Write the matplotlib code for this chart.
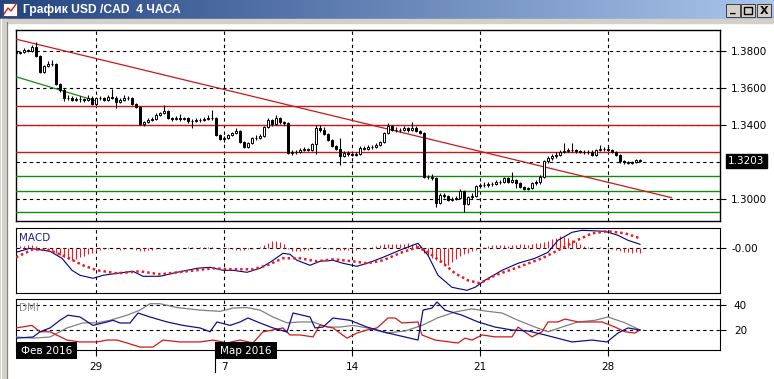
import numpy as np
import matplotlib
matplotlib.use("Agg")
import matplotlib.pyplot as plt
from matplotlib.patches import Rectangle

# ---------------- data ----------------
closes = [1.3787, 1.3792, 1.3803, 1.3797, 1.3819, 1.3770, 1.3684, 1.3716, 1.3727, 1.3727,
          1.3619, 1.3587, 1.3544, 1.3544, 1.3533, 1.3538, 1.3538, 1.3533, 1.3544, 1.3511,
          1.3544, 1.3544, 1.3533, 1.3549, 1.3544, 1.3522, 1.3533, 1.3544, 1.3544, 1.3511,
          1.3495, 1.3403, 1.3414, 1.3425, 1.3430, 1.3452, 1.3463, 1.3473, 1.3435, 1.3430,
          1.3435, 1.3430, 1.3435, 1.3419, 1.3419, 1.3425, 1.3425, 1.3430, 1.3435, 1.3435,
          1.3344, 1.3322, 1.3328, 1.3344, 1.3355, 1.3365, 1.3306, 1.3279, 1.3301, 1.3328,
          1.3328, 1.3338, 1.3387, 1.3425, 1.3403, 1.3435, 1.3414, 1.3408, 1.3247, 1.3252,
          1.3252, 1.3263, 1.3268, 1.3263, 1.3295, 1.3381, 1.3371, 1.3349, 1.3317, 1.3284,
          1.3268, 1.3230, 1.3247, 1.3241, 1.3236, 1.3241, 1.3274, 1.3268, 1.3279, 1.3279,
          1.3290, 1.3306, 1.3355, 1.3392, 1.3371, 1.3371, 1.3371, 1.3381, 1.3371, 1.3381,
          1.3365, 1.3355, 1.3117, 1.3117, 1.3111, 1.2977, 1.3020, 1.3014, 1.2993, 1.2998,
          1.3004, 1.3041, 1.2971, 1.3009, 1.3014, 1.3068, 1.3074, 1.3074, 1.3079, 1.3079,
          1.3090, 1.3090, 1.3111, 1.3090, 1.3101, 1.3085, 1.3063, 1.3052, 1.3057, 1.3085,
          1.3090, 1.3117, 1.3203, 1.3219, 1.3230, 1.3236, 1.3252, 1.3257, 1.3263, 1.3263,
          1.3257, 1.3252, 1.3252, 1.3252, 1.3236, 1.3263, 1.3268, 1.3268, 1.3263, 1.3252,
          1.3236, 1.3203, 1.3198, 1.3192, 1.3198, 1.3209, 1.3203]

opens = [1.3795, 1.3787, 1.3792, 1.3803, 1.3797, 1.3819, 1.3770, 1.3684, 1.3716, 1.3727,
         1.3727, 1.3619, 1.3587, 1.3544, 1.3544, 1.3533, 1.3538, 1.3538, 1.3533, 1.3544,
         1.3511, 1.3544, 1.3544, 1.3533, 1.3549, 1.3544, 1.3522, 1.3533, 1.3544, 1.3544,
         1.3511, 1.3495, 1.3403, 1.3414, 1.3425, 1.3430, 1.3452, 1.3463, 1.3473, 1.3435,
         1.3430, 1.3435, 1.3430, 1.3435, 1.3419, 1.3419, 1.3425, 1.3425, 1.3430, 1.3435,
         1.3435, 1.3344, 1.3322, 1.3328, 1.3344, 1.3355, 1.3365, 1.3306, 1.3279, 1.3301,
         1.3328, 1.3328, 1.3338, 1.3387, 1.3425, 1.3403, 1.3435, 1.3414, 1.3408, 1.3247,
         1.3252, 1.3252, 1.3263, 1.3268, 1.3263, 1.3295, 1.3381, 1.3371, 1.3349, 1.3317,
         1.3284, 1.3268, 1.3230, 1.3247, 1.3241, 1.3236, 1.3241, 1.3274, 1.3268, 1.3279,
         1.3279, 1.3290, 1.3306, 1.3355, 1.3392, 1.3371, 1.3371, 1.3371, 1.3381, 1.3371,
         1.3381, 1.3365, 1.3355, 1.3117, 1.3117, 1.3111, 1.2977, 1.3020, 1.3014, 1.2993,
         1.2998, 1.3004, 1.3041, 1.2971, 1.3009, 1.3014, 1.3068, 1.3074, 1.3074, 1.3079,
         1.3079, 1.3090, 1.3090, 1.3111, 1.3090, 1.3101, 1.3085, 1.3063, 1.3052, 1.3057,
         1.3085, 1.3090, 1.3117, 1.3203, 1.3219, 1.3230, 1.3236, 1.3252, 1.3257, 1.3263,
         1.3263, 1.3257, 1.3252, 1.3252, 1.3252, 1.3236, 1.3263, 1.3268, 1.3268, 1.3263,
         1.3252, 1.3236, 1.3203, 1.3198, 1.3192, 1.3198, 1.3209]

highs = [1.3805, 1.3800, 1.3812, 1.3810, 1.3830, 1.3845, 1.3775, 1.3722, 1.3745, 1.3750,
         1.3735, 1.3625, 1.3595, 1.3558, 1.3552, 1.3548, 1.3552, 1.3545, 1.3560, 1.3552,
         1.3550, 1.3556, 1.3550, 1.3558, 1.3592, 1.3552, 1.3545, 1.3562, 1.3555, 1.3550,
         1.3518, 1.3500, 1.3420, 1.3435, 1.3440, 1.3460, 1.3470, 1.3506, 1.3480, 1.3442,
         1.3445, 1.3455, 1.3442, 1.3440, 1.3430, 1.3435, 1.3438, 1.3440, 1.3450, 1.3479,
         1.3440, 1.3350, 1.3338, 1.3350, 1.3362, 1.3381, 1.3372, 1.3312, 1.3308, 1.3335,
         1.3345, 1.3350, 1.3395, 1.3436, 1.3430, 1.3452, 1.3440, 1.3420, 1.3412, 1.3260,
         1.3262, 1.3275, 1.3280, 1.3275, 1.3302, 1.3398, 1.3398, 1.3385, 1.3355, 1.3322,
         1.3290, 1.3328, 1.3255, 1.3255, 1.3250, 1.3250, 1.3282, 1.3285, 1.3290, 1.3290,
         1.3298, 1.3312, 1.3362, 1.3408, 1.3398, 1.3385, 1.3382, 1.3390, 1.3388, 1.3414,
         1.3390, 1.3372, 1.3360, 1.3130, 1.3135, 1.3118, 1.3030, 1.3030, 1.3020, 1.3008,
         1.3012, 1.3050, 1.3048, 1.3015, 1.3030, 1.3075, 1.3085, 1.3090, 1.3092, 1.3090,
         1.3100, 1.3100, 1.3118, 1.3118, 1.3144, 1.3108, 1.3092, 1.3070, 1.3065, 1.3092,
         1.3098, 1.3125, 1.3210, 1.3228, 1.3240, 1.3250, 1.3262, 1.3301, 1.3275, 1.3301,
         1.3270, 1.3265, 1.3262, 1.3265, 1.3260, 1.3270, 1.3290, 1.3280, 1.3285, 1.3270,
         1.3258, 1.3240, 1.3208, 1.3205, 1.3205, 1.3215, 1.3215]

lows = [1.3778, 1.3780, 1.3788, 1.3790, 1.3792, 1.3765, 1.3678, 1.3678, 1.3710, 1.3715,
        1.3612, 1.3578, 1.3530, 1.3535, 1.3525, 1.3526, 1.3520, 1.3522, 1.3528, 1.3505,
        1.3505, 1.3532, 1.3526, 1.3528, 1.3536, 1.3490, 1.3515, 1.3528, 1.3535, 1.3505,
        1.3488, 1.3398, 1.3392, 1.3408, 1.3418, 1.3425, 1.3445, 1.3458, 1.3428, 1.3420,
        1.3424, 1.3420, 1.3425, 1.3410, 1.3381, 1.3412, 1.3415, 1.3420, 1.3424, 1.3425,
        1.3338, 1.3315, 1.3305, 1.3320, 1.3338, 1.3348, 1.3300, 1.3272, 1.3274, 1.3295,
        1.3318, 1.3320, 1.3332, 1.3380, 1.3395, 1.3398, 1.3405, 1.3400, 1.3240, 1.3238,
        1.3242, 1.3245, 1.3255, 1.3255, 1.3255, 1.3240, 1.3362, 1.3342, 1.3310, 1.3278,
        1.3260, 1.3182, 1.3225, 1.3232, 1.3228, 1.3228, 1.3235, 1.3260, 1.3262, 1.3270,
        1.3272, 1.3285, 1.3300, 1.3350, 1.3365, 1.3362, 1.3360, 1.3365, 1.3362, 1.3365,
        1.3358, 1.3348, 1.3110, 1.3105, 1.3100, 1.2955, 1.2970, 1.3005, 1.2985, 1.2985,
        1.2990, 1.2998, 1.2928, 1.2965, 1.3000, 1.3008, 1.3060, 1.3065, 1.3065, 1.3068,
        1.3072, 1.3080, 1.3082, 1.3082, 1.3085, 1.3060, 1.3055, 1.3045, 1.3045, 1.3050,
        1.3075, 1.3080, 1.3110, 1.3195, 1.3210, 1.3222, 1.3230, 1.3245, 1.3250, 1.3252,
        1.3248, 1.3245, 1.3242, 1.3240, 1.3230, 1.3230, 1.3258, 1.3258, 1.3255, 1.3245,
        1.3228, 1.3195, 1.3188, 1.3185, 1.3188, 1.3192, 1.3198]

last_price = "1.3203"
red_levels = [1.3500, 1.3400, 1.3250]
green_levels = [1.3121, 1.3041, 1.2926]
red_trend_idx = [-0.1, 163.9]
red_trend_val = [1.3862, 1.3005]
green_trend_idx = [-0.1, 19.7]
green_trend_val = [1.3659, 1.3530]

price_ticks = [1.3000, 1.3400, 1.3600, 1.3800]
price_ticklabels = ["1.3000", "1.3400", "1.3600", "1.3800"]
day_ticks = [20, 52, 84, 116, 148]
day_labels = ["29", "7", "14", "21", "28"]

# MACD main (traced)
macd_idx = [0, 3.5, 8.5, 11.5, 14, 16, 19.25, 21.75, 25.25, 29.25, 31.75, 36, 40.25, 45.25,
            48.5, 51.75, 54.25, 57.75, 61, 63.5, 66.75, 68.5, 70.25, 73.5, 76, 79.25, 81.75,
            85.25, 88.5, 91.75, 96.5, 100.5, 103, 105.5, 109, 112.75, 114.75, 117.25, 121.5,
            125.5, 129.75, 133, 135.5, 139, 141.5, 147.25, 150.5, 153, 156]
macd_val = [-0.0004, 0.0000, -0.0003, -0.0010, -0.0022, -0.0027, -0.0030, -0.0027, -0.0025,
            -0.0023, -0.0028, -0.0028, -0.0024, -0.0020, -0.0019, -0.0022, -0.0022, -0.0024,
            -0.0020, -0.0014, -0.0005, -0.0006, -0.0012, -0.0017, -0.0013, -0.0012, -0.0015,
            -0.0018, -0.0014, -0.0009, -0.0001, 0.0005, -0.0007, -0.0027, -0.0039, -0.0042,
            -0.0039, -0.0032, -0.0022, -0.0015, -0.0010, -0.0004, 0.0008, 0.0016, 0.0018,
            0.0017, 0.0013, 0.0008, 0.0004]
sig_idx = [0, 4.25, 8.5, 12.75, 16.75, 20.25, 25.25, 31, 36, 42.75, 49.25, 54.25, 59.25, 62.75,
           66.75, 71, 75.25, 79.25, 84.25, 87.75, 91.75, 96.5, 100.5, 103, 106.5, 109.75, 113,
           116, 119.75, 125.5, 131.5, 135.5, 139.75, 144, 148, 152.25, 156]
sig_val = [-0.0009, -0.0001, -0.0002, -0.0009, -0.0017, -0.0022, -0.0025, -0.0023, -0.0026,
           -0.0023, -0.0020, -0.0021, -0.0021, -0.0017, -0.0010, -0.0010, -0.0013, -0.0011,
           -0.0013, -0.0015, -0.0012, -0.0004, 0.0001, -0.0004, -0.0014, -0.0025, -0.0032,
           -0.0035, -0.0027, -0.0019, -0.0010, -0.0002, 0.0007, 0.0015, 0.0017, 0.0015, 0.0010]
hist_val = [1, 2, 2, 3, 3, 2, 0, -1, -2, -3,
            -5, -7, -9, -11, -12, -11, -9, -8, -6, -5,
            -3, -2, -1, -1, 0, -1, -2, -1, 0, -1,
            -2, -3, -3, -2, -2, -1, -1, 0, 0, -1,
            -1, 0, 0, 1, 1, 0, 1, 1, 1, 1,
            0, -1, -1, -1, -1, -2, -2, -2, -1, -1,
            0, 1, 3, 5, 7, 7, 6, 4, -1, -3,
            -3, -3, -2, -2, -1, 0, 1, 0, -1, -1,
            -2, -2, -2, -2, -2, -2, -1, -1, 0, 1,
            2, 3, 4, 4, 4, 4, 4, 4, 5, 4,
            4, 3, -5, -7, -10, -12, -14, -16, -17, -14,
            -11, -8, -6, -5, -3, -2, -1, 1, 2, 3,
            3, 3, 3, 2, 3, 3, 4, 4, 3, 4,
            5, 5, 6, 7, 9, 10, 12, 11, 10, 8,
            6, 4, 2, 1, 1, 0, 1, 0, -1, -1,
            -2, -3, -4, -4, -5, -4, -5]

# DMI (traced)
adx_idx = [0, 4.25, 8.5, 12.75, 16.75, 20.25, 23.5, 27.75, 31, 33.5, 36, 40.25, 46, 51, 54.25,
           57.75, 61, 64.25, 67.75, 71, 74.25, 77.75, 81, 84.25, 87.75, 92.75, 97.25, 101.5,
           105.5, 109.75, 114, 117.25, 121.5, 125.5, 129.75, 133, 136.5, 140.5, 144.75, 148,
           152.25, 156]
adx_val = [14.9, 14, 14.9, 22, 26, 26, 28, 32, 36, 41, 41, 38, 36, 35, 37.6, 38, 36, 30.6, 26,
           26.7, 26.7, 22.7, 22.7, 24, 22, 18, 19.6, 24, 30, 34.5, 37, 35.3, 33.7, 28, 22.7,
           19, 22.7, 26.7, 28, 30.6, 26, 20.4]
pdi_idx = [0, 4.25, 6, 8.5, 11, 13, 16, 19.25, 22.75, 24.25, 26, 28.5, 30.5, 33.5, 37.75, 41.75,
           46, 48.5, 50.25, 53.5, 56, 58, 61, 64.25, 67.75, 69.25, 73.5, 74.75, 76.75, 79.25,
           83.5, 87.75, 90.25, 93, 97.25, 100.5, 101.75, 104, 105.25, 107.25, 111.5, 115.5,
           119.75, 124, 128, 132.25, 139, 144, 147.75, 150.5, 153, 156]
pdi_val = [14, 14.9, 19, 22, 28, 32, 30.6, 24, 26.7, 28, 25.9, 25.9, 33.7, 30.6, 26.7, 24, 22,
           19, 26.7, 24, 26.7, 29.8, 25.9, 22, 18.8, 33.7, 30.6, 22, 22.7, 29.8, 28, 22.7, 20.4,
           18, 14.9, 12.5, 36, 37.6, 42.4, 36, 32, 26.7, 22.7, 20.4, 19.6, 16.5, 11, 12.5, 11,
           18, 22, 20.4]
mdi_idx = [0, 4, 6, 8.5, 12.75, 16, 20.25, 22.75, 25.25, 27.75, 31, 34.25, 36.75, 41, 46, 49.25,
           52.75, 56, 59.25, 61.75, 64.25, 66.75, 68.5, 71, 74.25, 76, 79.25, 82.75, 85.25, 87.75,
           90.25, 93, 94.75, 96.5, 100.5, 101.5, 104.75, 110.5, 112.25, 114, 116.5, 119.75, 124,
           125.5, 129, 131.5, 133, 135.5, 137.25, 140.5, 144, 146.5, 149.75, 152.25, 154.75, 156]
mdi_val = [22, 24, 19, 19, 12.5, 11, 11, 12.5, 12.5, 10.2, 7, 7, 12.5, 11, 11, 12.5, 10.2, 12.5,
           10.2, 19, 20.4, 22, 16.5, 16.5, 15, 24.3, 22, 14, 18, 20.4, 22, 29.8, 29.8, 25.9, 26.7,
           16.5, 12.5, 10.2, 14, 12.5, 16.5, 15, 15, 22.7, 15, 19, 26.7, 26.7, 29, 26.7, 26.7,
           26.7, 22.7, 19, 18, 20.4]

# ---------------- layout helpers ----------------
W, H = 774, 379
fig = plt.figure(figsize=(W / 100, H / 100), dpi=100)
fig.patch.set_facecolor("white")


def ax_px(l, t, r, b, **kw):
    return fig.add_axes([l / W, 1 - b / H, (r - l) / W, (b - t) / H], **kw)


LFT, RGT = 15.7, 720
XL = (-0.075, 176)
FS = 7.5
GRID = dict(color="black", linestyle=(0, (3, 3)), linewidth=0.8)

# background chrome
bg = ax_px(0, 0, W, H, zorder=-5)
bg.set_xlim(0, W)
bg.set_ylim(H, 0)
bg.axis("off")
grad = np.linspace(0, 1, 256)
c0 = np.array([36, 68, 130]) / 255
c1 = np.array([170, 198, 236]) / 255
img = (c0[None, :] * (1 - grad[:, None]) + c1[None, :] * grad[:, None])[None, :, :]
bg.imshow(img, extent=(0, W, 19, 0), aspect="auto", zorder=0)
bg.add_patch(Rectangle((0, 19), W, 4, color="#d4d0c8", zorder=1))
bg.add_patch(Rectangle((0, 19), 7, H, color="#d4d0c8", zorder=1))
bg.plot([6.5, 6.5], [22, H], color="#808080", lw=0.8, zorder=2)
bg.plot([1, 1], [19, H], color="white", lw=0.8, zorder=2)
# icon
bg.add_patch(Rectangle((3, 3), 14, 13, facecolor="white", edgecolor="#404040", lw=0.6, zorder=2))
bg.plot([4, 8, 11, 16], [14, 8, 11, 4], color="#d02020", lw=1.0, zorder=3)
bg.text(23, 10, "График USD /CAD  4 ЧАСА", color="white", fontsize=8.7,
        fontweight="bold", family="Liberation Sans", va="center", ha="left", zorder=3)
# window buttons
for bx in [726, 741, 757]:
    bg.add_patch(Rectangle((bx, 4), 14, 13, facecolor="#d4d0c8", edgecolor="#404040",
                           lw=0.7, zorder=2))
bg.text(733, 9.5, "_", fontsize=8, fontweight="bold", ha="center", va="center", zorder=3)
bg.add_patch(Rectangle((744, 7), 8, 7, facecolor="none", edgecolor="black", lw=1.0, zorder=3))
bg.text(764, 11, "X", fontsize=8, fontweight="bold", ha="center", va="center", zorder=3)

# ---------------- main price panel ----------------
ax = ax_px(LFT, 30, RGT, 221)
ax.set_xlim(*XL)
ax.set_ylim(1.2879, 1.3911)
idx = np.arange(len(closes))
o = np.array(opens)
c = np.array(closes)
hi = np.array(highs)
lo = np.array(lows)
ax.vlines(idx, lo, hi, color="black", lw=0.8, zorder=4)
up = c >= o
ax.bar(idx[up], c[up] - o[up], bottom=o[up], width=0.55, facecolor="white",
       edgecolor="black", linewidth=0.7, zorder=5)
ax.bar(idx[~up], c[~up] - o[~up], bottom=o[~up], width=0.55, facecolor="black",
       edgecolor="black", linewidth=0.7, zorder=5)
for lv in red_levels:
    ax.axhline(lv, color="#c81818", lw=1.0, zorder=3)
for lv in green_levels:
    ax.axhline(lv, color="#138a13", lw=1.0, zorder=3)
ax.plot(red_trend_idx, red_trend_val, color="#c81818", lw=0.9, zorder=3)
ax.plot(green_trend_idx, green_trend_val, color="#138a13", lw=0.9, zorder=3)
for lv in [1.30, 1.32, 1.34, 1.36, 1.38]:
    ax.axhline(lv, zorder=1, **GRID)
for t in day_ticks:
    ax.axvline(t, zorder=1, **GRID)
ax.set_xticks([])
ax.yaxis.tick_right()
ax.set_yticks(price_ticks)
ax.set_yticklabels(price_ticklabels, fontsize=FS)
ax.tick_params(axis="y", length=4, width=0.8, pad=4, right=True, left=False)
ax.text(1.0115, 1.3203, last_price, transform=ax.get_yaxis_transform(), color="white",
        fontsize=FS, va="center", ha="left",
        bbox=dict(boxstyle="square,pad=0.2", facecolor="black", edgecolor="black"))
for sp in ax.spines.values():
    sp.set_linewidth(1.0)

# ---------------- MACD panel ----------------
am = ax_px(LFT, 228, RGT, 293)
am.set_xlim(*XL)
am.set_ylim(-0.00447, 0.00203)
am.axhline(0, zorder=1, **GRID)
for t in day_ticks:
    am.axvline(t, zorder=1, **GRID)
hv = np.array(hist_val) * 0.0001
am.vlines(idx, 0, hv, color="#e81c24", lw=0.8, zorder=3)
am.plot(macd_idx, macd_val, color="#000080", lw=0.8, zorder=4)
am.plot(sig_idx, sig_val, color="#e81c24", lw=1.8, linestyle=(0, (1, 1.2)), zorder=5)
am.set_xticks([])
am.yaxis.tick_right()
am.set_yticks([0])
am.set_yticklabels(["-0.00"], fontsize=FS)
am.tick_params(axis="y", length=4, width=0.8, pad=4, right=True, left=False)
am.text(0.004, 0.93, "MACD", transform=am.transAxes, fontsize=FS, color="#202080",
        va="top", ha="left")

# ---------------- DMI panel ----------------
ad = ax_px(LFT, 299, RGT, 350)
ad.set_xlim(*XL)
ad.set_ylim(4.7, 44.7)
for lv in [20, 40]:
    ad.axhline(lv, zorder=1, **GRID)
for t in day_ticks:
    ad.axvline(t, zorder=1, **GRID)
ad.plot(adx_idx, adx_val, color="#808080", lw=0.9, zorder=3)
ad.plot(mdi_idx, mdi_val, color="#d01818", lw=0.9, zorder=4)
ad.plot(pdi_idx, pdi_val, color="#101090", lw=0.9, zorder=5)
ad.yaxis.tick_right()
ad.set_yticks([20, 40])
ad.set_yticklabels(["20", "40"], fontsize=FS)
ad.tick_params(axis="y", length=4, width=0.8, pad=6, right=True, left=False)
ad.set_xticks(day_ticks)
ad.set_xticklabels(day_labels, fontsize=FS)
ad.tick_params(axis="x", length=4, width=0.8, pad=5)
ad.text(0.004, 0.92, "DMI", transform=ad.transAxes, fontsize=FS, color="#909090",
        va="top", ha="left")

# ---------------- overlay: month boxes ----------------
ov = ax_px(0, 0, W, H, zorder=20)
ov.set_xlim(0, W)
ov.set_ylim(H, 0)
ov.axis("off")
ov.patch.set_alpha(0)
for (bx, txt) in [(15.7, "Фев 2016"), (215, "Мар 2016")]:
    ov.add_patch(Rectangle((bx, 342), 61.5, 17, facecolor="black", edgecolor="black", lw=0))
    ov.text(bx + 31, 351, txt, color="white", fontsize=FS, ha="center", va="center")
ov.plot([215, 215], [342, 372], color="black", lw=0.8)

fig.savefig("out.png", dpi=100)
